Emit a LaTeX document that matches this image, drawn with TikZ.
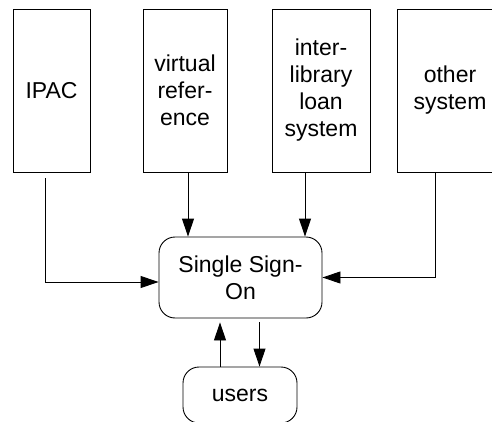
\documentclass[tikz,border=0pt]{standalone}
\usepackage{fontspec}
\setmainfont{Liberation Sans}
\usetikzlibrary{arrows.meta}

\tikzset{
  sysbox/.style={draw, line width=.9pt, minimum height=163pt, align=center,
    inner sep=0pt, font=\fontsize{23}{27}\selectfont},
  ssobox/.style={draw, line width=.9pt, rounded corners=16pt, align=center,
    inner sep=0pt, font=\fontsize{23}{27}\selectfont},
  arr/.style={line width=.9pt, -{Triangle[length=18pt,width=12pt]}}
}

\begin{document}
\begin{tikzpicture}[x=1pt, y=-1pt]
  \useasboundingbox (0,0) rectangle (492,422);

  \node[sysbox, minimum width=77pt] (ipac) at (51.5,90.5) {IPAC};
  \node[sysbox, minimum width=84pt] (vref) at (185,90.5) {virtual\\refer-\\ence};
  \node[sysbox, minimum width=98pt] (ill) at (321,90.5) {inter-\\library\\loan\\system};
  \node[sysbox, minimum width=106pt] (other) at (450,90.5) {other\\system};

  \node[ssobox, minimum width=163pt, minimum height=81pt] (sso) at (240.5,277.5)
      {Single Sign-\\On};
  \node[ssobox, minimum width=114pt, minimum height=56pt] (users) at (240,395) {users};

  \draw[arr, shorten <=6pt] ([xshift=-6.5pt]ipac.south) |- ([yshift=-4.5pt]sso.west);
  \draw[arr] ([xshift=3pt]vref.south) -- ([xshift=3pt]vref.south |- sso.north);
  \draw[arr] ([xshift=-16pt]ill.south) -- ([xshift=-16pt]ill.south |- sso.north);
  \draw[arr] ([xshift=-15pt]other.south) |- (sso.east);

  \draw[arr, shorten >=4pt] ([xshift=-20pt]users.north) -- ([xshift=-20pt]users.north |- sso.south);
  \draw[arr, shorten <=4pt] ([xshift=19pt]sso.south) -- ([xshift=19pt]sso.south |- users.north);
\end{tikzpicture}
\end{document}
